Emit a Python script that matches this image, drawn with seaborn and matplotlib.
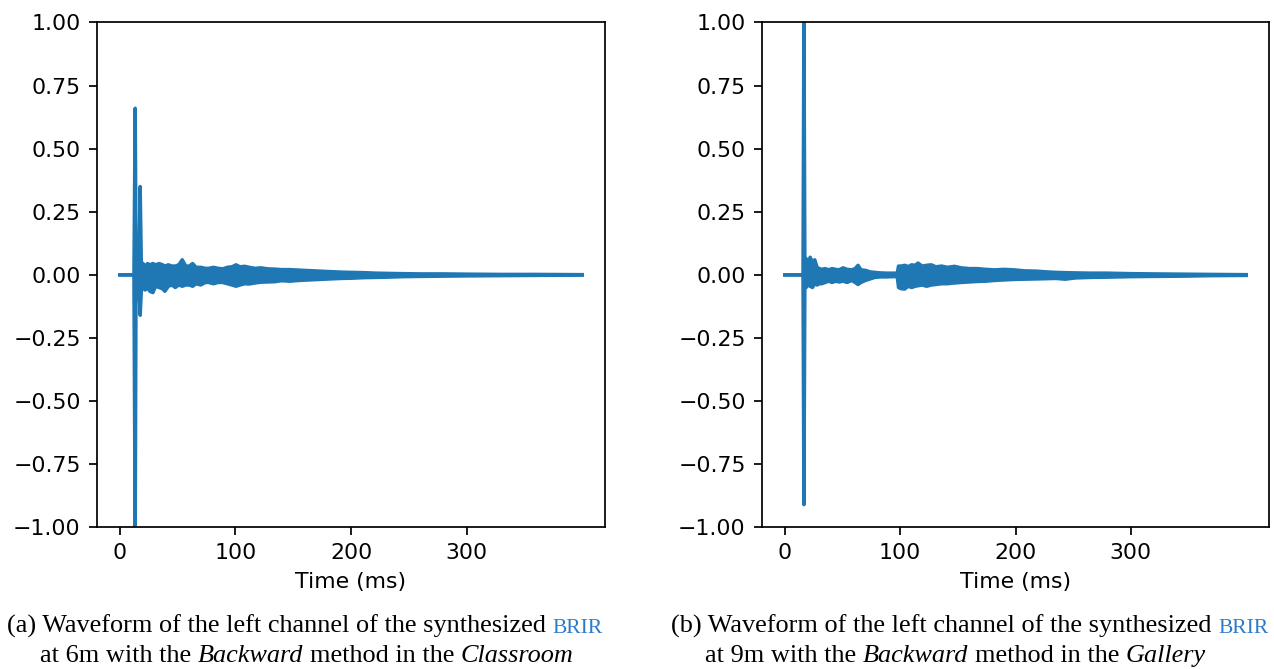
import matplotlib
matplotlib.use("Agg")
import matplotlib.pyplot as plt
import seaborn as sns

# envelope of the left channel (ms, upper peak, lower peak)
# (a) Classroom, 6m
time_a = [0, 12.2, 13.3, 14.0, 15.0, 16.5, 17.6, 18.6, 20, 22, 24, 26, 28.6, 31, 34, 37, 39,
          42, 45, 48, 51, 54, 57, 60, 63, 66, 70, 74, 77, 81, 85, 89, 93, 97, 100.5, 104,
          108, 112, 117, 122, 128, 134, 140, 147, 155, 164, 173, 182, 192, 201, 211, 221,
          232, 245, 260, 280, 300, 330, 360, 400]
upper_a = [0, 0, 0.66, 0.10, 0.045, 0.035, 0.35, 0.05, 0.045, 0.035, 0.045, 0.04, 0.045, 0.04,
           0.045, 0.04, 0.035, 0.04, 0.035, 0.035, 0.04, 0.06, 0.035, 0.035, 0.045, 0.03, 0.03,
           0.026, 0.026, 0.03, 0.026, 0.024, 0.03, 0.032, 0.04, 0.032, 0.034, 0.03, 0.026,
           0.028, 0.024, 0.023, 0.021, 0.021, 0.019, 0.017, 0.015, 0.013, 0.011, 0.01, 0.009,
           0.007, 0.006, 0.005, 0.004, 0.004, 0.003, 0.002, 0.002, 0.001]
lower_a = [0, 0, -1.05, -0.06, -0.055, -0.045, -0.16, -0.065, -0.045, -0.06, -0.05, -0.065,
           -0.07, -0.045, -0.05, -0.055, -0.065, -0.045, -0.04, -0.05, -0.04, -0.045, -0.04,
           -0.04, -0.045, -0.035, -0.04, -0.03, -0.03, -0.035, -0.03, -0.03, -0.035, -0.04,
           -0.045, -0.04, -0.035, -0.036, -0.032, -0.029, -0.028, -0.027, -0.023, -0.025, -0.022,
           -0.02, -0.018, -0.016, -0.014, -0.013, -0.011, -0.01, -0.009, -0.007, -0.006,
           -0.005, -0.004, -0.003, -0.002, -0.001]

# (b) Gallery, 9m
time_b = [0, 15.8, 16.6, 17.4, 18.5, 20, 22, 24, 26, 28, 30, 32, 35, 38, 41, 44, 47, 50.6,
          54, 58, 61, 63.5, 66, 70, 74, 78, 83, 88, 93, 97.5, 98.6, 101, 104, 107, 110, 113,
          115.5, 119, 123, 127, 131, 136, 141, 147, 153, 160, 167, 174, 182, 190, 199, 208,
          218, 227, 235, 243, 252, 265, 280, 300, 320, 345, 370, 400]
upper_b = [0, 0, 1.05, 0.06, 0.065, 0.04, 0.07, 0.05, 0.06, 0.03, 0.025, 0.022, 0.025, 0.02,
           0.025, 0.022, 0.02, 0.028, 0.022, 0.02, 0.025, 0.038, 0.02, 0.018, 0.012, 0.01,
           0.008, 0.007, 0.007, 0.007, 0.035, 0.035, 0.038, 0.033, 0.04, 0.038, 0.047, 0.035,
           0.038, 0.04, 0.032, 0.035, 0.03, 0.034, 0.028, 0.025, 0.025, 0.022, 0.02, 0.022,
           0.02, 0.016, 0.015, 0.012, 0.01, 0.009, 0.008, 0.007, 0.007, 0.005, 0.004, 0.003,
           0.002, 0.001]
lower_b = [0, 0, -0.91, -0.05, -0.05, -0.04, -0.045, -0.05, -0.035, -0.04, -0.035, -0.035,
           -0.03, -0.025, -0.03, -0.025, -0.028, -0.025, -0.03, -0.022, -0.03, -0.038, -0.03,
           -0.022, -0.016, -0.01, -0.008, -0.008, -0.007, -0.007, -0.05, -0.055, -0.056,
           -0.045, -0.05, -0.045, -0.043, -0.04, -0.045, -0.04, -0.038, -0.035, -0.035, -0.032,
           -0.03, -0.028, -0.026, -0.025, -0.022, -0.02, -0.018, -0.017, -0.016, -0.015,
           -0.014, -0.017, -0.012, -0.01, -0.009, -0.007, -0.006, -0.005, -0.003, -0.002]

caption_a = [("(a) Waveform of the left channel of the synthesized", "normal", "black"),
             ("BRIR", "brir", "#2b7bca")]
caption_a2 = [("at 6m with the", "normal", "black"), ("Backward", "italic", "black"),
              ("method in the", "normal", "black"), ("Classroom", "italic", "black")]
caption_b = [("(b) Waveform of the left channel of the synthesized", "normal", "black"),
             ("BRIR", "brir", "#2b7bca")]
caption_b2 = [("at 9m with the", "normal", "black"), ("Backward", "italic", "black"),
              ("method in the", "normal", "black"), ("Gallery", "italic", "black")]

W, H = 1274, 669
BLUE = "#1f77b4"
plt.rcParams.update({
    "font.size": 15.8,
    "axes.linewidth": 1.25,
    "xtick.major.size": 6.0, "ytick.major.size": 6.0,
    "xtick.major.width": 1.25, "ytick.major.width": 1.25,
    "xtick.major.pad": 5.5, "ytick.major.pad": 5.5,
    "axes.labelpad": 6.3,
})

fig = plt.figure(figsize=(W / 100, H / 100), dpi=100)
ax_a = fig.add_axes([96.7 / W, (H - 527.3) / H, 508.6 / W, 504.8 / H])
ax_b = fig.add_axes([761.7 / W, (H - 527.3) / H, 507.6 / W, 504.8 / H])


def draw_wave(ax, t, up, lo):
    ax.fill_between(t, lo, up, color=BLUE, linewidth=0)
    sns.lineplot(x=t, y=up, ax=ax, color=BLUE, linewidth=2.5, estimator=None, sort=False)
    sns.lineplot(x=t, y=lo, ax=ax, color=BLUE, linewidth=2.5, estimator=None, sort=False)
    ax.set_xlim(-20, 420)
    ax.set_ylim(-1, 1)
    ax.set_yticks([-1, -0.75, -0.5, -0.25, 0, 0.25, 0.5, 0.75, 1])
    ax.set_yticklabels([f"{v:.2f}".replace("-", "\u2212") for v in ax.get_yticks()])
    ax.set_xticks([0, 100, 200, 300])
    ax.set_xlabel("Time (ms)")
    ax.set_ylabel("")


draw_wave(ax_a, time_a, upper_a, lower_a)
draw_wave(ax_b, time_b, upper_b, lower_b)

# captions in a serif face, mixing roman, italic and small caps pieces
renderer = fig.canvas.get_renderer()
CAP_SIZE = 18.9


def text_width(s, **kw):
    t = fig.text(0, 0, s, **kw)
    w = t.get_window_extent(renderer).width
    t.remove()
    return w


def caption(x, y, pieces):
    base = dict(family="Liberation Serif", fontsize=CAP_SIZE)
    space = text_width("x x", **base) - text_width("xx", **base)
    for text, style, color in pieces:
        kw = dict(base)
        if style == "italic":
            kw["fontstyle"] = "italic"
        elif style == "brir":
            kw["fontsize"] = CAP_SIZE * 0.82
        t = fig.text(x / W, (H - y) / H, text, color=color, va="baseline", **kw)
        x += t.get_window_extent(renderer).width + space


caption(7, 633, caption_a)
caption(40, 662, caption_a2)
caption(671, 633, caption_b)
caption(705, 662, caption_b2)

fig.savefig("out.png", dpi=100)
